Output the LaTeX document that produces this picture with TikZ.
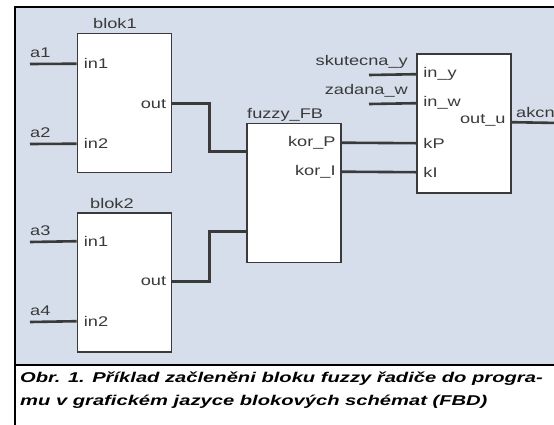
\documentclass[tikz,border=0pt]{standalone}
\usepackage{fontspec}
\setmainfont{Liberation Sans}[FakeStretch=1.3]
\newfontfamily\capfont{Liberation Sans}[FakeStretch=1.42]
\usetikzlibrary{positioning, calc}
\definecolor{panel}{HTML}{D5DEEA}
\definecolor{ink}{HTML}{3A3A3A}
\tikzset{
    fbd/.style={x=1pt, y=-1pt, font=\fontsize{14}{16}\selectfont, text=ink},
    fblock/.style={draw=ink, line width=1.6pt, fill=white, minimum width=94pt, minimum height=139pt, inner sep=0pt},
    wire/.style={draw=ink, line width=2.6pt},
    inpin/.style={inner sep=0pt, anchor=west, xshift=7pt},
    outpin/.style={inner sep=0pt, anchor=east, xshift=-6pt},
    sig/.style={inner sep=0pt, anchor=base west},
    sigr/.style={inner sep=0pt, anchor=base east},
    title/.style={inner sep=0pt, anchor=base west},
}

\begin{document}
\begin{tikzpicture}[fbd]
    \useasboundingbox (0,0) rectangle (554,424);
    % frame
    \fill[panel] (15,7) rectangle (560,365);
    \fill[white] (15,365) rectangle (560,430);
    \draw[line width=1.8pt, black] (15,430) -- (15,7) -- (560,7);
    \draw[line width=1.8pt, black] (15,365) -- (560,365);

    % blocks
    \node[fblock] (b1)  at (124.5,103)   {};
    \node[fblock] (b2)  at (124.5,282.5) {};
    \node[fblock] (fz)  at (294,193)     {};
    \node[fblock] (pid) at (464,123.5)   {};

    \node[title] (t1) at (93,28)   {blok1};
    \node[title] (t2) at (90,208)  {blok2};
    \node[title] (t3) at (247,118) {fuzzy\_FB};

    % ports
    \coordinate (b1i1) at ($(b1.north west)+(0,31)$);
    \coordinate (b1i2) at ($(b1.north west)+(0,111)$);
    \coordinate (b1o)  at ($(b1.north east)+(0,71)$);
    \coordinate (b2i1) at ($(b2.north west)+(0,29)$);
    \coordinate (b2i2) at ($(b2.north west)+(0,109)$);
    \coordinate (b2o)  at ($(b2.north east)+(0,69)$);
    \coordinate (fzi1) at ($(fz.north west)+(0,29)$);
    \coordinate (fzi2) at ($(fz.north west)+(0,109)$);
    \coordinate (fzo1) at ($(fz.north east)+(0,20)$);
    \coordinate (fzo2) at ($(fz.north east)+(0,49)$);
    \coordinate (pidy) at ($(pid.north west)+(0,21)$);
    \coordinate (pidw) at ($(pid.north west)+(0,50)$);
    \coordinate (pidp) at ($(pid.north west)+(0,90)$);
    \coordinate (pidi) at ($(pid.north west)+(0,119)$);
    \coordinate (pido) at ($(pid.north east)+(0,69)$);

    \node[inpin]  at (b1i1) {in1};
    \node[inpin]  at (b1i2) {in2};
    \node[outpin] at (b1o)  {out};
    \node[inpin]  at (b2i1) {in1};
    \node[inpin]  at (b2i2) {in2};
    \node[outpin] at (b2o)  {out};
    \node[outpin] at (fzo1) {kor\_P};
    \node[outpin] at (fzo2) {kor\_I};
    \node[inpin]  at (pidy) {in\_y};
    \node[inpin]  at (pidw) {in\_w};
    \node[inpin]  at (pidp) {kP};
    \node[inpin]  at (pidi) {kI};
    \node[outpin, yshift=2pt] at (pido) {out\_u};

    % free ends
    \coordinate (a1) at (30,64);
    \coordinate (a2) at (30,144);
    \coordinate (a3) at (30,242);
    \coordinate (a4) at (30,322);
    \coordinate (sy) at (369,75);
    \coordinate (zw) at (369,104);
    \coordinate (ak) at (560,123);

    \draw[wire] (a1) -- (b1i1);
    \draw[wire] (a2) -- (b1i2);
    \draw[wire] (a3) -- (b2i1);
    \draw[wire] (a4) -- (b2i2);
    \node[sig] at ($(a1)+(0,-7)$) {a1};
    \node[sig] at ($(a2)+(0,-7)$) {a2};
    \node[sig] at ($(a3)+(0,-7)$) {a3};
    \node[sig] at ($(a4)+(0,-7)$) {a4};

    \draw[wire] (b1o) -- ++(37,0) |- (fzi1);
    \draw[wire] (b2o) -- ++(37,0) |- (fzi2);
    \draw[wire] (fzo1) -- (pidp);
    \draw[wire] (fzo2) -- (pidi);

    \draw[wire] (sy) -- (pidy);
    \draw[wire] (zw) -- (pidw);
    \node[sigr] at (408,65) {skutecna\_y};
    \node[sigr] at (408,94) {zadana\_w};

    \draw[wire] (pido) -- (ak);
    \node[sig] at (516,117) {akcn};

    % caption
    \node[sig, text=black, font=\capfont\fontsize{14.2}{17}\selectfont\bfseries\itshape] (cap1) at (20,382)
        {Obr. 1. Příklad začleněni bloku fuzzy řadiče do progra-};
    \node[sig, text=black, font=\capfont\fontsize{14.2}{17}\selectfont\bfseries\itshape] (cap2) at (20,405)
        {mu v grafickém jazyce blokových schémat (FBD)};
\end{tikzpicture}
\end{document}
